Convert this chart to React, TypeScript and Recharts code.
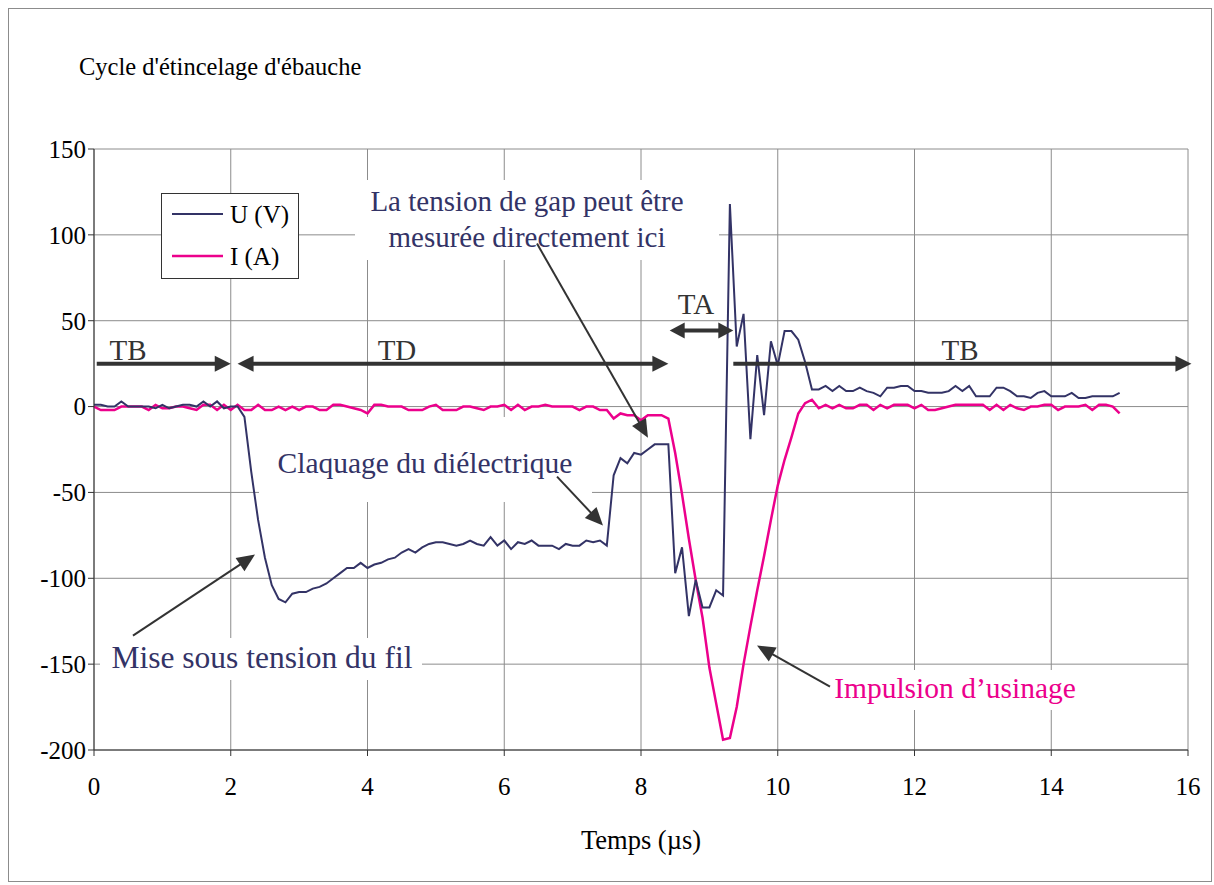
import React from 'react';
import { LineChart, Line, XAxis, YAxis, CartesianGrid } from 'recharts';

// time base, µs (sampled every 0.1 µs)
const times = [
  0, 0.1, 0.2, 0.3, 0.4, 0.5, 0.6, 0.7, 0.8, 0.9,
  1, 1.1, 1.2, 1.3, 1.4, 1.5, 1.6, 1.7, 1.8, 1.9,
  2, 2.1, 2.2, 2.3, 2.4, 2.5, 2.6, 2.7, 2.8, 2.9,
  3, 3.1, 3.2, 3.3, 3.4, 3.5, 3.6, 3.7, 3.8, 3.9,
  4, 4.1, 4.2, 4.3, 4.4, 4.5, 4.6, 4.7, 4.8, 4.9,
  5, 5.1, 5.2, 5.3, 5.4, 5.5, 5.6, 5.7, 5.8, 5.9,
  6, 6.1, 6.2, 6.3, 6.4, 6.5, 6.6, 6.7, 6.8, 6.9,
  7, 7.1, 7.2, 7.3, 7.4, 7.5, 7.6, 7.7, 7.8, 7.9,
  8, 8.1, 8.2, 8.3, 8.4, 8.5, 8.6, 8.7, 8.8, 8.9,
  9, 9.1, 9.2, 9.3, 9.4, 9.5, 9.6, 9.7, 9.8, 9.9,
  10, 10.1, 10.2, 10.3, 10.4, 10.5, 10.6, 10.7, 10.8, 10.9,
  11, 11.1, 11.2, 11.3, 11.4, 11.5, 11.6, 11.7, 11.8, 11.9,
  12, 12.1, 12.2, 12.3, 12.4, 12.5, 12.6, 12.7, 12.8, 12.9,
  13, 13.1, 13.2, 13.3, 13.4, 13.5, 13.6, 13.7, 13.8, 13.9,
  14, 14.1, 14.2, 14.3, 14.4, 14.5, 14.6, 14.7, 14.8, 14.9,
  15,
];

// U (V)
const voltage = [
  1, 1, 0, 0, 3, 0, 0, 0, 0, -1,
  1, -1, 0, 1, 1, 0, 3, 0, 3, -1,
  0, 0, -6, -38, -66, -88, -104, -112, -114, -109,
  -108, -108, -106, -105, -103, -100, -97, -94, -94, -91,
  -94, -92, -91, -89, -88, -85, -83, -85, -82, -80,
  -79, -79, -80, -81, -80, -78, -80, -81, -76, -81,
  -78, -83, -79, -80, -78, -81, -81, -81, -83, -80,
  -81, -81, -78, -79, -78, -81, -40, -30, -33, -27,
  -28, -25, -22, -22, -22, -97, -82, -122, -101, -117,
  -117, -107, -110, 118, 35, 54, -19, 30, -5, 38,
  24, 44, 44, 39, 26, 10, 10, 12, 9, 12,
  9, 9, 11, 9, 8, 6, 11, 11, 12, 12,
  9, 9, 8, 8, 8, 9, 12, 9, 12, 6,
  6, 6, 11, 11, 9, 6, 6, 5, 8, 9,
  6, 6, 6, 8, 5, 5, 6, 6, 6, 6,
  8,
];

// I (A)
const current = [
  0, -2, -2, -2, 0, 0, 0, 0, -2, 1,
  -1, -1, 0, 0, -1, -2, 1, 1, -2, 1,
  -2, 1, -2, -2, 1, -2, -2, 0, -2, 0,
  -2, 0, 0, -2, -2, 1, 1, 0, -1, -2,
  -4, 1, 1, 0, 0, 0, -2, -2, -2, 0,
  1, -2, -2, -2, 0, 0, -1, -2, 0, 0,
  1, -2, 1, -2, 0, 0, 1, 0, 0, 0,
  0, -2, 0, 0, -2, -2, -7, -4, -5, -5,
  -8, -5, -5, -5, -7, -27, -51, -77, -101, -123,
  -152, -173, -194, -193, -175, -150, -128, -107, -87, -66,
  -46, -31, -18, -4, 2, 4, -1, 1, -1, 1,
  -1, -1, 1, 1, -2, 1, -1, 1, 1, 1,
  -1, 1, -2, -2, -1, 0, 1, 1, 1, 1,
  1, -2, 1, -2, 1, -1, -2, 0, 0, 1,
  1, -2, 0, 0, 0, 1, -2, 1, 1, 0,
  -4,
];

const xTicks = [0, 2, 4, 6, 8, 10, 12, 14, 16];
const yTicks = [-200, -150, -100, -50, 0, 50, 100, 150];

const data = times.map((t, k) => ({ t, u: voltage[k], i: current[k] }));

const FONT = "'Liberation Serif', 'Times New Roman', serif";
const NAVY = '#333366';
const PINK = '#EC008C';
const INK = '#333333';

// plot rectangle (same as chart margins + axis sizes below)
const PLOT = { left: 94, top: 149, right: 1188, bottom: 750 };
const px = (x: number) => PLOT.left + (x / 16) * (PLOT.right - PLOT.left);
const py = (y: number) => PLOT.top + ((150 - y) / 350) * (PLOT.bottom - PLOT.top);

function Arrow({ x1, y1, x2, y2, sw, hl, hw, start = false, end = true }: any) {
  const ax = px(x1), ay = py(y1), bx = px(x2), by = py(y2);
  const dx = bx - ax, dy = by - ay;
  const len = Math.hypot(dx, dy);
  const ux = dx / len, uy = dy / len, nx = -uy, ny = ux;
  const head = (tx: number, ty: number, dir: number) => {
    const cx = tx - dir * ux * hl, cy = ty - dir * uy * hl;
    return `${tx},${ty} ${cx + nx * hw},${cy + ny * hw} ${cx - nx * hw},${cy - ny * hw}`;
  };
  const sx = start ? ax + ux * hl * 0.8 : ax;
  const sy = start ? ay + uy * hl * 0.8 : ay;
  const ex = end ? bx - ux * hl * 0.8 : bx;
  const ey = end ? by - uy * hl * 0.8 : by;
  return (
    <g>
      <line x1={sx} y1={sy} x2={ex} y2={ey} stroke={INK} strokeWidth={sw} />
      {start && <polygon points={head(ax, ay, -1)} fill={INK} />}
      {end && <polygon points={head(bx, by, 1)} fill={INK} />}
    </g>
  );
}

export default function App() {
  const tickStyle = { fontSize: 25, fill: '#000', fontFamily: FONT };
  return (
    <div style={{ position: 'absolute', left: 0, top: 0, width: 1214, height: 885, background: '#fff' }}>
      <LineChart width={1214} height={885} data={data} margin={{ top: 149, right: 26, bottom: 85, left: 14 }}>
        <CartesianGrid stroke="#8c8c8c" strokeWidth={1} />
        <XAxis
          dataKey="t" type="number" domain={[0, 16]} ticks={xTicks} height={50}
          tick={tickStyle} tickSize={6} tickMargin={21}
          axisLine={{ stroke: INK }} tickLine={{ stroke: INK }}
        />
        <YAxis
          type="number" domain={[-200, 150]} ticks={yTicks} width={80}
          tick={tickStyle} tickSize={6} tickMargin={2}
          axisLine={{ stroke: INK }} tickLine={{ stroke: INK }}
        />
        <Line type="linear" dataKey="i" stroke={PINK} strokeWidth={2.5} dot={false} isAnimationActive={false} />
        <Line type="linear" dataKey="u" stroke={NAVY} strokeWidth={2} dot={false} isAnimationActive={false} />
      </LineChart>

      <svg width={1214} height={885} style={{ position: 'absolute', left: 0, top: 0, pointerEvents: 'none' }} fontFamily={FONT}>
        <rect x={8.5} y={8.5} width={1203} height={873} fill="none" stroke="#8c8c8c" />
        <text x={79} y={66} fontSize={24.5} dominantBaseline="central" fill="#000">Cycle d'étincelage d'ébauche</text>
        <text x={641} y={840} fontSize={26.5} textAnchor="middle" dominantBaseline="central" fill="#000">Temps (µs)</text>

        {/* legend */}
        <rect x={161.5} y={193.5} width={137} height={85} fill="#fff" stroke={INK} />
        <line x1={172} y1={214} x2={223} y2={214} stroke={NAVY} strokeWidth={2} />
        <line x1={172} y1={256} x2={223} y2={256} stroke={PINK} strokeWidth={2.5} />
        <text x={230} y={214} fontSize={25} dominantBaseline="central" fill="#000">U (V)</text>
        <text x={230} y={256} fontSize={25} dominantBaseline="central" fill="#000">I (A)</text>

        {/* text boxes */}
        <rect x={355} y={180} width={364} height={80} fill="#fff" />
        <text x={527} y={201} fontSize={29} textAnchor="middle" dominantBaseline="central" fill={NAVY}>La tension de gap peut être</text>
        <text x={527} y={237} fontSize={29} textAnchor="middle" dominantBaseline="central" fill={NAVY}>mesurée directement ici</text>

        <rect x={259} y={417} width={333} height={85} fill="#fff" />
        <text x={425} y={463} fontSize={29.5} textAnchor="middle" dominantBaseline="central" fill={NAVY}>Claquage du diélectrique</text>

        <rect x={100} y={638} width={322} height={42} fill="#fff" />
        <text x={262} y={657} fontSize={31.5} textAnchor="middle" dominantBaseline="central" fill={NAVY}>Mise sous tension du fil</text>

        <rect x={820} y={670} width={272} height={40} fill="#fff" />
        <text x={955} y={688} fontSize={29.5} textAnchor="middle" dominantBaseline="central" fill={PINK}>Impulsion d’usinage</text>

        {/* phase labels */}
        <text x={128} y={350} fontSize={29} textAnchor="middle" dominantBaseline="central" fill={INK}>TB</text>
        <text x={397} y={350} fontSize={29} textAnchor="middle" dominantBaseline="central" fill={INK}>TD</text>
        <text x={696} y={304} fontSize={29} textAnchor="middle" dominantBaseline="central" fill={INK}>TA</text>
        <text x={960} y={350} fontSize={29} textAnchor="middle" dominantBaseline="central" fill={INK}>TB</text>

        {/* phase arrows */}
        <Arrow x1={0.04} y1={25} x2={2.0} y2={25} sw={4} hl={16} hw={8} />
        <Arrow x1={2.1} y1={25} x2={8.4} y2={25} sw={4} hl={16} hw={8} start />
        <Arrow x1={8.42} y1={44.3} x2={9.35} y2={44.3} sw={4} hl={15} hw={8} start />
        <Arrow x1={9.35} y1={25} x2={16.05} y2={25} sw={4} hl={16} hw={8} />

        {/* pointer arrows */}
        <Arrow x1={0.57} y1={-133.4} x2={2.355} y2={-86.2} sw={2} hl={18} hw={8} />
        <Arrow x1={6.772} y1={-40.8} x2={7.444} y2={-69.3} sw={2} hl={18} hw={8} />
        <Arrow x1={6.479} y1={94.9} x2={8.102} y2={-18.1} sw={2} hl={18} hw={8} />
        <Arrow x1={10.764} y1={-163.1} x2={9.697} y2={-139.2} sw={2} hl={18} hw={8} />
      </svg>
    </div>
  );
}
